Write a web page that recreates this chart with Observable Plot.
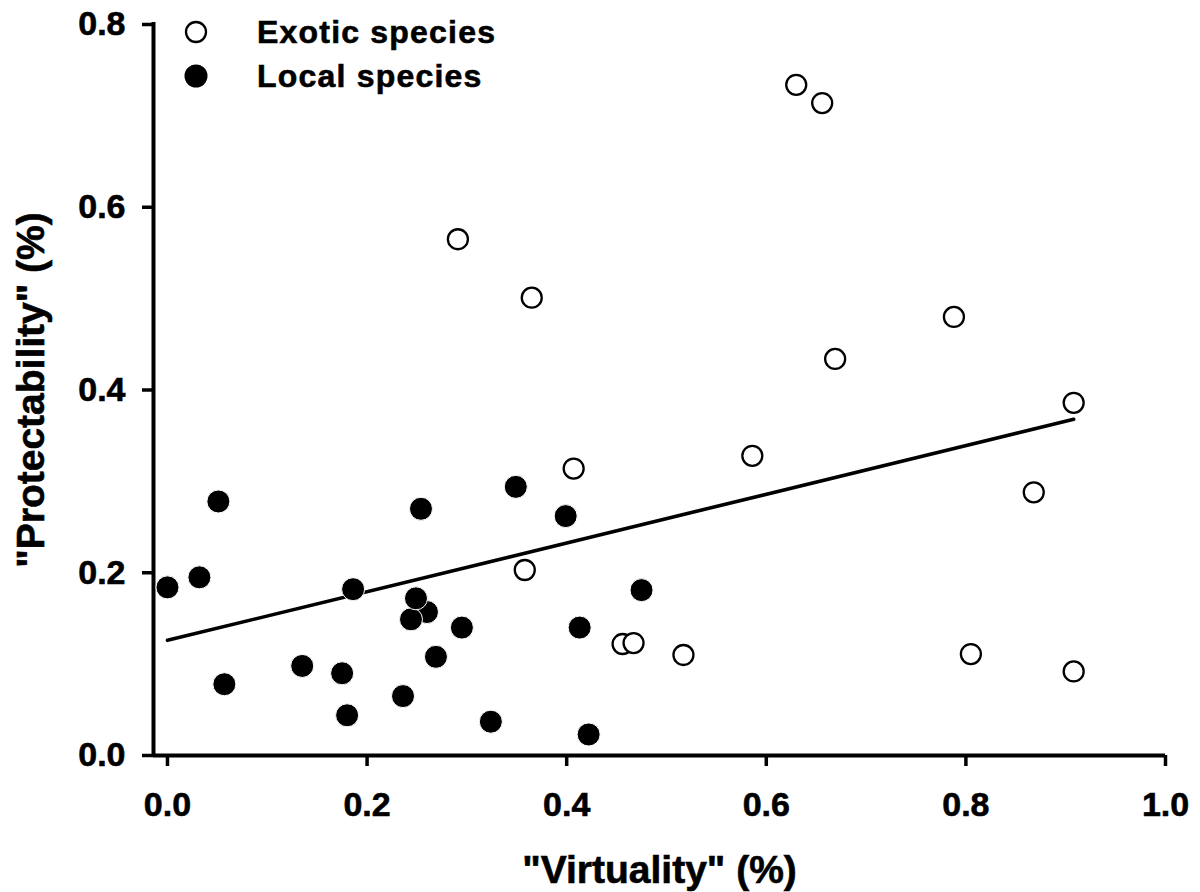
<!DOCTYPE html>
<html>
<head>
<meta charset="utf-8">
<script src="https://cdn.jsdelivr.net/npm/d3@7"></script>
<script src="https://cdn.jsdelivr.net/npm/@observablehq/plot@0.6"></script>
<style>
  html, body { margin: 0; padding: 0; background: #fff; }
  #wrap { position: relative; width: 1200px; height: 892px; font-family: "Liberation Sans", Arial, Helvetica, sans-serif; font-weight: bold; color: #000; }
  #wrap svg text { stroke: #000; stroke-width: 0.6px; }
  #legend { position: absolute; left: 183px; top: 10px; }
  .row { display: flex; align-items: center; height: 44px; }
  .row svg { width: 26px; height: 26px; flex: none; }
  .row span { margin-left: 48px; font-size: 32px; letter-spacing: 1.2px; line-height: 44px; -webkit-text-stroke: 0.6px #000; }
</style>
</head>
<body>
<div id="wrap"><div id="legend"></div></div>
<script>
// Exotic species: "Virtuality" vs "Protectability"
const exoticVirtuality = [0.291, 0.358, 0.365, 0.407, 0.456, 0.467, 0.517, 0.586, 0.630, 0.656, 0.669, 0.788, 0.805, 0.868, 0.908, 0.908];
const exoticProtectability = [0.565, 0.203, 0.501, 0.314, 0.122, 0.123, 0.110, 0.328, 0.734, 0.714, 0.434, 0.480, 0.111, 0.288, 0.386, 0.092];

// Local species
const localVirtuality = [0.000, 0.032, 0.051, 0.057, 0.135, 0.175, 0.180, 0.186, 0.236, 0.254, 0.260, 0.244, 0.249, 0.269, 0.295, 0.324, 0.349, 0.399, 0.413, 0.422, 0.475];
const localProtectability = [0.184, 0.195, 0.278, 0.078, 0.098, 0.090, 0.044, 0.182, 0.065, 0.270, 0.157, 0.149, 0.172, 0.108, 0.140, 0.037, 0.294, 0.262, 0.140, 0.023, 0.181];

// Fitted regression line, end points
const fitVirtuality = [0.0, 0.908];
const fitProtectability = [0.126, 0.368];

// Axis ticks and titles
const xTicks = [0.0, 0.2, 0.4, 0.6, 0.8, 1.0];
const yTicks = [0.0, 0.2, 0.4, 0.6, 0.8];
const xDomain = [-0.014, 1.0];
const yDomain = [0, 0.8];
const xTitle = "\"Virtuality\" (%)";
const yTitle = "\"Protectability\" (%)";
const legendItems = [
  {label: "Exotic species", filled: false},
  {label: "Local species", filled: true}
];

const exotic = exoticVirtuality.map((v, i) => ({v, p: exoticProtectability[i]}));
const local = localVirtuality.map((v, i) => ({v, p: localProtectability[i]}));
const fit = fitVirtuality.map((v, i) => ({v, p: fitProtectability[i]}));

const fmt = d3.format(".1f");

const chart = Plot.plot({
  width: 1200,
  height: 892,
  marginLeft: 153,
  marginRight: 35,
  marginTop: 24,
  marginBottom: 137,
  x: {domain: xDomain},
  y: {domain: yDomain},
  style: {
    fontFamily: "'Liberation Sans', Arial, Helvetica, sans-serif",
    fontWeight: "bold",
    fontSize: "34px",
    color: "#000",
    background: "transparent",
    overflow: "visible"
  },
  marks: [
    Plot.axisX({ticks: xTicks, tickFormat: fmt, tickSize: 11, tickPadding: 25, strokeWidth: 3.5, label: null, fontSize: 34}),
    Plot.axisY({ticks: yTicks, tickFormat: fmt, tickSize: 11, tickPadding: 17, strokeWidth: 3.5, label: null, fontSize: 34}),
    Plot.ruleY([yDomain[0]], {strokeWidth: 4}),
    Plot.ruleX([xDomain[0]], {strokeWidth: 4, strokeLinecap: "square"}),
    Plot.line(fit, {x: "v", y: "p", stroke: "#000", strokeWidth: 3.6, strokeLinecap: "round"}),
    Plot.dot(local, {x: "v", y: "p", r: 11.5, fill: "#000", stroke: "#fff", strokeWidth: 1}),
    Plot.dot(exotic, {x: "v", y: "p", r: 10, fill: "#fff", stroke: "#000", strokeWidth: 2.3}),
    Plot.text([xTitle], {frameAnchor: "bottom", dy: 127, lineAnchor: "bottom", textAnchor: "middle", text: d => d, fontSize: 39, fontWeight: "bold"}),
    Plot.text([yTitle], {frameAnchor: "left", dx: -109.5, rotate: -90, lineAnchor: "bottom", textAnchor: "middle", text: d => d, fontSize: 39, fontWeight: "bold"})
  ]
});

const wrap = document.getElementById("wrap");
wrap.insertBefore(chart, wrap.firstChild);

// Legend drawn above the plot area
const legend = d3.select("#legend");
for (const item of legendItems) {
  const row = legend.append("div").attr("class", "row");
  const svg = row.append("svg").attr("viewBox", "0 0 26 26");
  svg.append("circle")
    .attr("cx", 13).attr("cy", 13)
    .attr("r", item.filled ? 11.5 : 10)
    .attr("fill", item.filled ? "#000" : "#fff")
    .attr("stroke", item.filled ? "none" : "#000")
    .attr("stroke-width", 2.3);
  row.append("span").text(item.label);
}
</script>
</body>
</html>
